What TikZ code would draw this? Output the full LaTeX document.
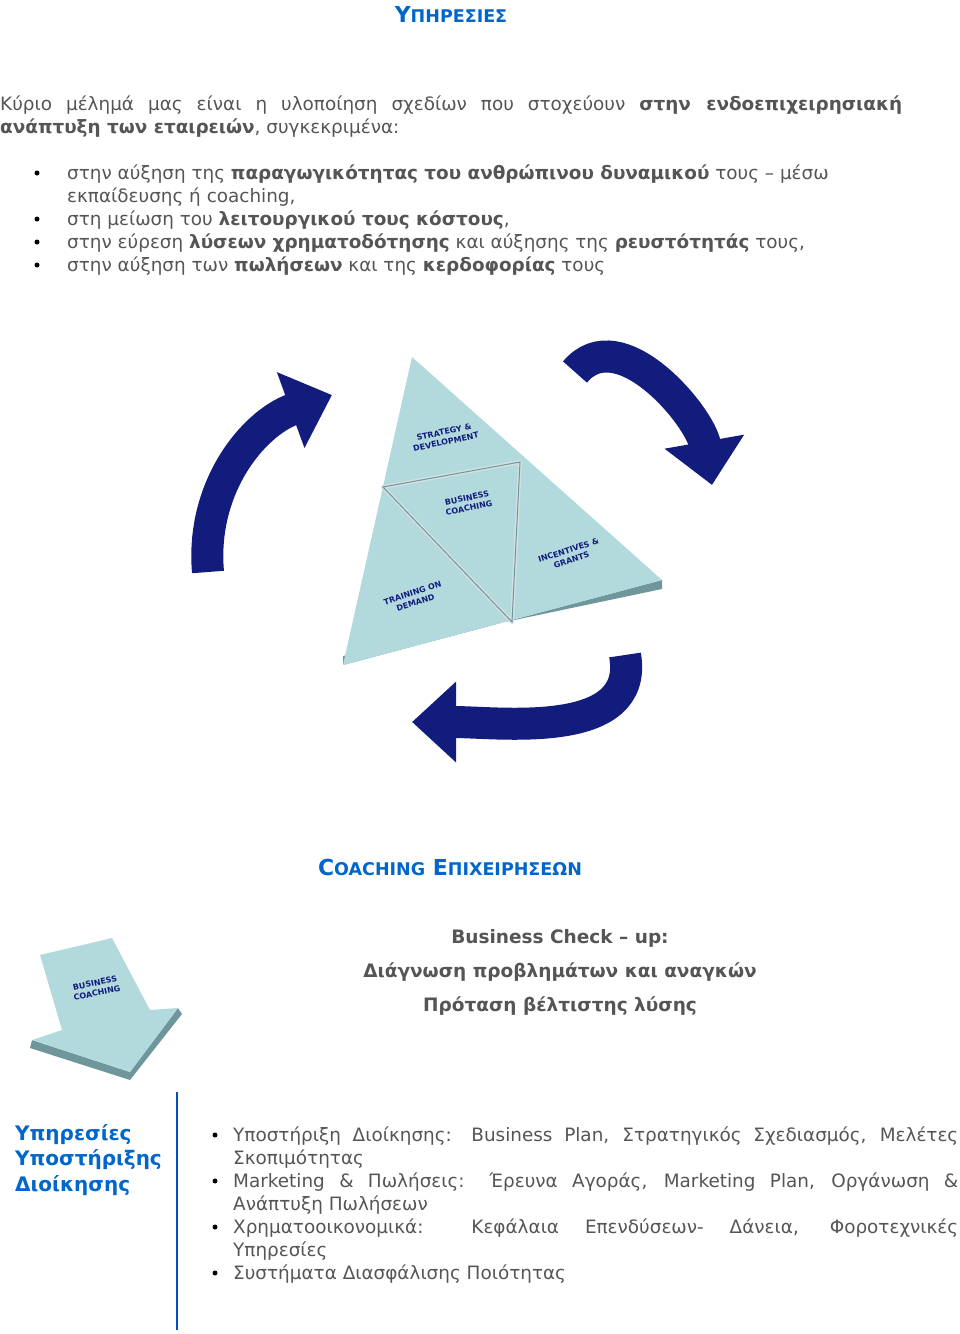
\documentclass[tikz,border=0pt]{standalone}
\usepackage{fontspec}
\setmainfont{DejaVu Sans}
\usetikzlibrary{arrows.meta}
\definecolor{titleblue}{RGB}{0,102,204}
\definecolor{bodygray}{RGB}{85,85,85}
\definecolor{navy}{RGB}{18,28,125}
\definecolor{tile}{RGB}{178,218,220}
\definecolor{tileedge}{RGB}{110,150,155}
\begin{document}
\begin{tikzpicture}[x=1pt,y=-1pt]
  \tikzstyle{body}=[anchor=base west,inner sep=0pt,text=bodygray,font=\fontsize{18.4}{23}\selectfont]
  \tikzstyle{bullet}=[circle,fill=black,inner sep=0pt,minimum size=5pt]
  \tikzstyle{turn}=[navy,line width=32pt,-{Triangle[width=78pt,length=44pt]}]
  \tikzstyle{tilelabel}=[navy,font=\fontsize{8}{10}\selectfont\bfseries,align=center,inner sep=0pt]
  \tikzstyle{heading}=[titleblue,font=\fontsize{22}{22}\selectfont\bfseries,inner sep=0pt]
  \tikzstyle{centred}=[anchor=center,inner sep=0pt,text=bodygray,font=\fontsize{18.5}{18.5}\selectfont\bfseries]

  \useasboundingbox (0,0) rectangle (960,1334);

  % title
  \node[heading] (title) at (451,14) {Υ{\fontsize{17.5}{17.5}\selectfont ΠΗΡΕΣΙΕΣ}};

  % intro
  \node[body] (intro1) at (0,110) {\makebox[902pt][s]{Κύριο μέλημά μας είναι η υλοποίηση σχεδίων που στοχεύουν \textbf{στην ενδοεπιχειρησιακή}}};
  \node[body] (intro2) at (0,133) {\textbf{ανάπτυξη των εταιρειών}, συγκεκριμένα:};

  \foreach \y in {173,219,242,265} \node[bullet] at (37,\y) {};
  \node[body] (b1) at (67,179) {στην αύξηση της \textbf{παραγωγικότητας του ανθρώπινου δυναμικού} τους – μέσω};
  \node[body] (b1b) at (67,202) {εκπαίδευσης ή coaching,};
  \node[body] (b2) at (67,225) {στη μείωση του \textbf{λειτουργικού τους κόστους},};
  \node[body] (b3) at (67,248) {στην εύρεση \textbf{λύσεων χρηματοδότησης} και αύξησης της \textbf{ρευστότητάς} τους,};
  \node[body] (b4) at (67,271) {στην αύξηση των \textbf{πωλήσεων} και της \textbf{κερδοφορίας} τους};

  % triangle
  \coordinate (apex) at (412,357);
  \coordinate (left) at (343,665);
  \coordinate (right) at (662,580);
  \coordinate (ml) at (383,487);
  \coordinate (mr) at (520,462);
  \coordinate (mb) at (512,622);
  \fill[tileedge] (left) -- (right) -- ++(0,9) -- ([yshift=9pt]left) -- cycle;
  \fill[tile] (apex) -- (right) -- (left) -- cycle;
  \draw[white!70!tileedge,line width=4pt,line join=round] (ml) -- (mr) -- (mb) -- cycle;
  \draw[tileedge,line width=1pt] (ml) -- (mr) -- (mb) -- cycle;
  \node[tilelabel,rotate=12] (strategy) at (445,437) {STRATEGY \&\\DEVELOPMENT};
  \node[tilelabel,rotate=12] (coaching) at (468,503) {BUSINESS\\COACHING};
  \node[tilelabel,rotate=18] (incentives) at (570,555) {INCENTIVES \&\\GRANTS};
  \node[tilelabel,rotate=18] (training) at (414,598) {TRAINING ON\\DEMAND};

  % cycle arrows
  \draw[turn] (208,572) to[out=95,in=200] (332,395);
  \draw[turn] (575,372) to[out=50,in=100] (712,485);
  \draw[turn] (625,655) to[out=-80,in=0] (412,722);

  % coaching section
  \node[heading] (coach) at (450,867) {C{\fontsize{17.5}{17.5}\selectfont OACHING} Ε{\fontsize{17.5}{17.5}\selectfont ΠΙΧΕΙΡΗΣΕΩΝ}};
  \node[centred] (check) at (560,938) {Business Check – up:};
  \node[centred] (diag) at (560,972) {Διάγνωση προβλημάτων και αναγκών};
  \node[centred] (prop) at (560,1006) {Πρόταση βέλτιστης λύσης};

  % block arrow
  \fill[tileedge] (32,1040) -- (130,1072) -- (130,1080) -- (30,1048) -- cycle;
  \fill[tileedge] (130,1072) -- (178,1008) -- (182,1014) -- (130,1080) -- cycle;
  \fill[tile] (40,955) -- (112,938) -- (150,1010) -- (178,1008) -- (130,1072) -- (32,1040) -- (62,1030) -- cycle;
  \node[tilelabel,rotate=12] (bc) at (96,988) {BUSINESS\\COACHING};

  % services
  \draw[titleblue!70!navy,line width=2pt] (177,1092) -- (177,1330);
  \node[heading,anchor=north west,align=left,font=\fontsize{20}{25.5}\selectfont\bfseries] (serv) at (15,1124) {Υπηρεσίες\\Υποστήριξης\\Διοίκησης};
  \foreach \y in {1135,1181,1227,1273} \node[bullet] at (215,\y) {};
  \node[body] (s1) at (233,1141) {\makebox[725pt][s]{Υποστήριξη Διοίκησης: Business Plan, Στρατηγικός Σχεδιασμός, Μελέτες}};
  \node[body] (s1b) at (233,1164) {Σκοπιμότητας};
  \node[body] (s2) at (233,1187) {\makebox[725pt][s]{Marketing \& Πωλήσεις: Έρευνα Αγοράς, Marketing Plan, Οργάνωση \&}};
  \node[body] (s2b) at (233,1210) {Ανάπτυξη Πωλήσεων};
  \node[body] (s3) at (233,1233) {\makebox[725pt][s]{Χρηματοοικονομικά: Κεφάλαια Επενδύσεων- Δάνεια, Φοροτεχνικές}};
  \node[body] (s3b) at (233,1256) {Υπηρεσίες};
  \node[body] (s4) at (233,1279) {Συστήματα Διασφάλισης Ποιότητας};
\end{tikzpicture}
\end{document}
